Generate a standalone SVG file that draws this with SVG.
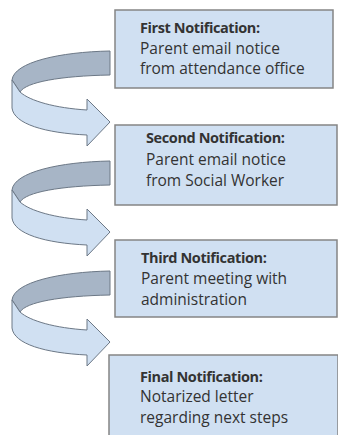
<svg xmlns="http://www.w3.org/2000/svg" width="338" height="435" viewBox="0 0 338 435">
<defs>
<style>
.box{fill:#d0e0f2;stroke:#858585;stroke-width:1.5}
.back{fill:#a7b5c6;stroke:#6c7886;stroke-width:1;stroke-linejoin:round}
.front{fill:#d0e0f2;stroke:#6c7886;stroke-width:1;stroke-linejoin:round}
text{font-family:"Open Sans","Noto Sans","Liberation Sans",sans-serif;font-size:15.5px;fill:#333333}
.t{font-weight:bold;font-size:14.5px;letter-spacing:-0.4px}
</style>
<g id="curved-arrow">
<path class="back" d="M12,80 C14,62 60,52 110,51 L110,75 C60,76 26,82 20,92 Z"/>
<path class="front" d="M12,80 L20,92 C30,101 55,108 87,110 L87,99 L110,122 L87,146 L87,135 C45,133 14,124 12,108 Z"/>
</g>
</defs>
<rect width="338" height="435" fill="#ffffff"/>
<g id="connectors">
<use href="#curved-arrow"/>
<use href="#curved-arrow" transform="translate(0,110)"/>
<use href="#curved-arrow" transform="translate(0,220)"/>
</g>
<g id="node1">
<rect class="box" x="115" y="10" width="218" height="78"/>
<text x="140" y="33" class="t">First Notification:</text>
<text x="140" y="53.5">Parent email notice</text>
<text x="140" y="73.5">from attendance office</text>
</g>
<g id="node2">
<rect class="box" x="115" y="125" width="222" height="80"/>
<text x="146" y="143" class="t">Second Notification:</text>
<text x="146" y="165">Parent email notice</text>
<text x="146" y="186">from Social Worker</text>
</g>
<g id="node3">
<rect class="box" x="115" y="240" width="222" height="77"/>
<text x="141" y="263" class="t">Third Notification:</text>
<text x="141" y="284">Parent meeting with</text>
<text x="141" y="305">administration</text>
</g>
<g id="node4">
<rect class="box" x="109" y="355" width="229" height="95"/>
<text x="140" y="382" class="t">Final Notification:</text>
<text x="140" y="402">Notarized letter</text>
<text x="140" y="423">regarding next steps</text>
</g>
</svg>
